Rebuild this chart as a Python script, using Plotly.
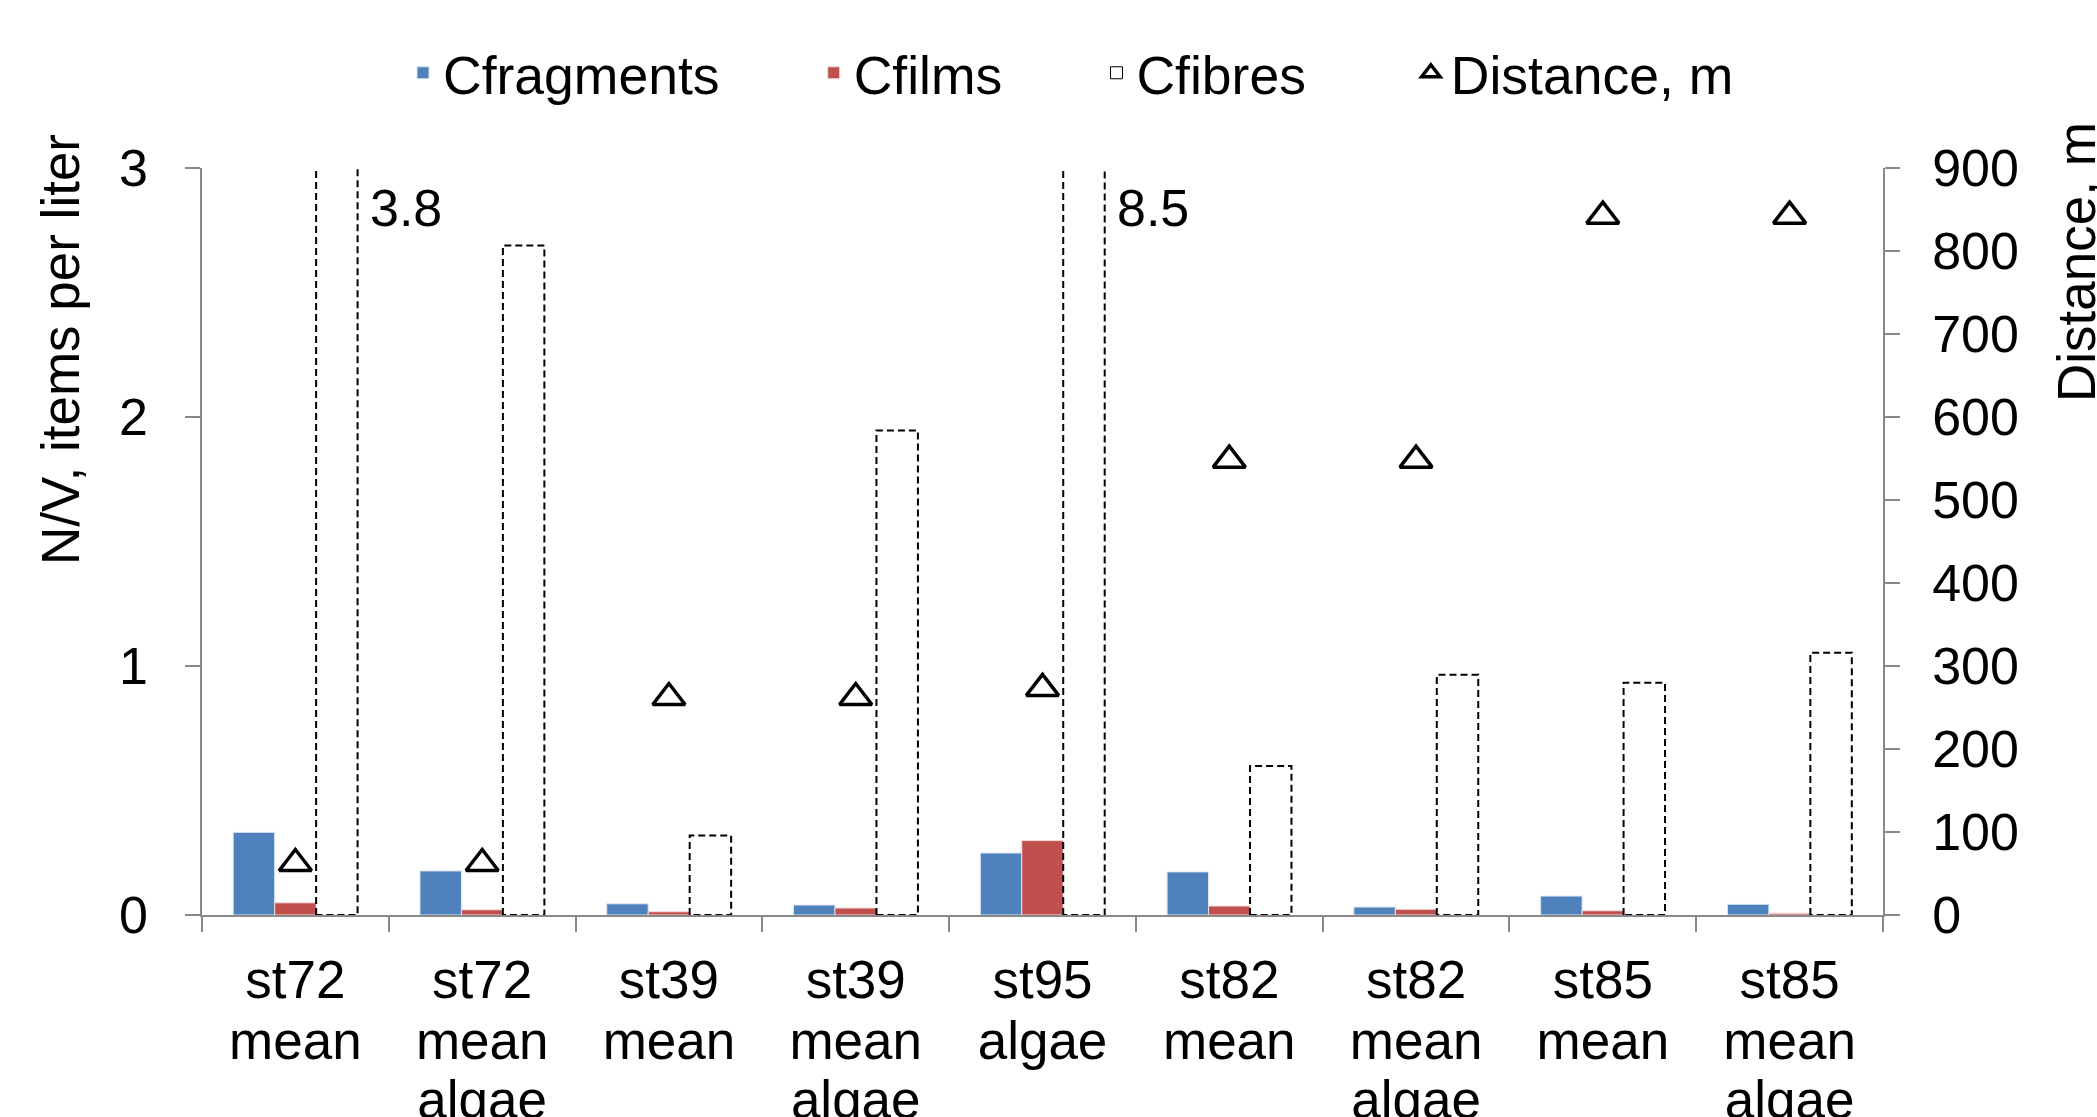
import plotly.graph_objects as go

# ---------------- data ----------------
categories = ["st72<br>mean", "st72<br>mean<br>algae", "st39<br>mean", "st39<br>mean<br>algae",
              "st95<br>algae", "st82<br>mean", "st82<br>mean<br>algae", "st85<br>mean",
              "st85<br>mean<br>algae"]
c_fragments = [0.332, 0.177, 0.045, 0.040, 0.249, 0.173, 0.032, 0.076, 0.043]
c_films = [0.049, 0.021, 0.013, 0.028, 0.299, 0.036, 0.023, 0.017, 0.007]
c_fibres = [3.8, 2.689, 0.319, 1.946, 8.5, 0.598, 0.965, 0.933, 1.053]
distance_m = [62, 62, 262, 262, 273, 548, 548, 842, 842]

y_max = 3
y2_max = 900

# ---------------- style ----------------
FONT = "Liberation Sans, Arial, sans-serif"
FS = 52
FS_LEG = 53.5
FS_CAT = 53
BLUE = "#4F81BD"
RED = "#C0504D"
AXIS = "#898989"
BAR_W = 0.222
OFF_FRAG, OFF_FILM, OFF_FIB = -0.333, -0.111, 0.111
NB = "\u00a0"

xs = list(range(len(categories)))
n_lines = max(len(c.split("<br>")) for c in categories)
cat_lines = [[(c.split("<br>") + [""] * n_lines)[k] for c in categories] for k in range(n_lines)]

fig = go.Figure()

fig.add_trace(go.Bar(x=xs, y=c_fragments, name="Cfragments" + NB * 6, width=BAR_W, offset=OFF_FRAG,
                     marker=dict(color=BLUE, line=dict(color="#DCE6F2", width=1))))
fig.add_trace(go.Bar(x=xs, y=c_films, name="Cfilms" + NB * 6, width=BAR_W, offset=OFF_FILM,
                     marker=dict(color=RED, line=dict(color="#F2DCDB", width=1))))
# fibres: white bar (no outline) + dashed outline drawn on the data axes
fig.add_trace(go.Bar(x=xs, y=c_fibres, name="Cfibres", width=BAR_W, offset=OFF_FIB,
                     marker=dict(color="white", line=dict(width=0)), showlegend=False))
ox, oy = [], []
for i, v in zip(xs, c_fibres):
    x0, x1 = i + OFF_FIB, i + OFF_FIB + BAR_W
    ox += [x0, x0, x1, x1, x0, None]
    oy += [0, v, v, 0, 0, None]
fig.add_trace(go.Scatter(x=ox, y=oy, mode="lines", showlegend=False, hoverinfo="skip",
                         line=dict(color="black", width=2, dash="7px,4px")))
# legend entry for fibres
fig.add_trace(go.Bar(x=[None], y=[None], name="Cfibres" + NB * 6 + "\u2009",
                     marker=dict(color="white", line=dict(color="black", width=1))))

fig.add_trace(go.Scatter(x=xs, y=distance_m, name="Distance, m", yaxis="y2", mode="markers",
                         marker=dict(symbol="triangle-up-open", size=28, color="black",
                                     line=dict(color="black", width=3.5))))

# empty traces so that the extra label rows (x2, x3) have a subplot
for k in range(1, n_lines):
    fig.add_trace(go.Scatter(x=[None], y=[None], xaxis=f"x{k + 1}", showlegend=False,
                             hoverinfo="skip"))

# labels for clipped fibre bars
annotations = []
for i, v in zip(xs, c_fibres):
    if v > y_max:
        annotations.append(dict(x=i + 0.39, y=2.838, xref="x", yref="y", text=f"{v:.1f}",
                                showarrow=False, xanchor="left", yanchor="middle",
                                font=dict(family=FONT, size=FS, color="black")))

W, H = 2097, 1117
L, R, T, B = 202, 214, 168, 202
pw, ph = W - L - R, H - T - B


def px_to_paper(px, py):
    return (px - L) / pw, (H - B - py) / ph


lx, ly = px_to_paper(60, 350)
annotations.append(dict(x=lx, y=ly, xref="paper", yref="paper", text="N/V, items per liter",
                        textangle=-90, showarrow=False, xanchor="center", yanchor="middle",
                        font=dict(family=FONT, size=FS_CAT, color="black")))
rx, ry = px_to_paper(2076, 262)
annotations.append(dict(x=rx, y=ry, xref="paper", yref="paper", text="Distance, m",
                        textangle=-90, showarrow=False, xanchor="center", yanchor="middle",
                        font=dict(family=FONT, size=FS_CAT, color="black")))

legx, legy = px_to_paper(403, 73)

xrange_ = [-0.5, len(categories) - 0.5]
layout_axes = {}
line_standoffs = [3, 64, 123]
for k in range(n_lines):
    ax = dict(range=xrange_, tickmode="array", tickvals=xs, ticktext=cat_lines[k],
              ticks="outside", ticklen=15, tickcolor="rgba(0,0,0,0)", showgrid=False,
              zeroline=False, ticklabelstandoff=line_standoffs[k],
              tickfont=dict(family=FONT, size=FS_CAT, color="black"))
    if k == 0:
        ax.update(showline=True, linecolor=AXIS, linewidth=1.5,
                  minor=dict(tick0=-0.5, dtick=1, ticks="outside", ticklen=15, tickcolor=AXIS,
                             tickwidth=1.5, showgrid=False))
        layout_axes["xaxis"] = ax
    else:
        ax.update(showline=False, overlaying="x", anchor="y", side="bottom")
        layout_axes[f"xaxis{k + 1}"] = ax

fig.update_layout(
    width=W, height=H,
    margin=dict(l=L, r=R, t=T, b=B, autoexpand=False),
    paper_bgcolor="white", plot_bgcolor="white",
    font=dict(family=FONT, size=FS, color="black"),
    barmode="overlay",
    showlegend=True,
    legend=dict(orientation="h", x=legx, y=legy, xanchor="left", yanchor="middle",
                font=dict(family=FONT, size=FS_LEG, color="black"), bgcolor="rgba(0,0,0,0)",
                traceorder="normal"),
    yaxis=dict(range=[0, y_max], dtick=1, ticks="outside", ticklen=15, tickcolor=AXIS,
               tickwidth=1.5, showline=True, linecolor=AXIS, linewidth=1.5, showgrid=False,
               zeroline=False, ticklabelstandoff=27,
               tickfont=dict(family=FONT, size=FS, color="black")),
    yaxis2=dict(range=[0, y2_max], dtick=100, overlaying="y", side="right", ticks="outside",
                ticklen=15, tickcolor=AXIS, tickwidth=1.5, showline=True, linecolor=AXIS,
                linewidth=1.5, showgrid=False, zeroline=False, ticklabelstandoff=22,
                tickfont=dict(family=FONT, size=FS, color="black")),
    annotations=annotations,
    **layout_axes,
)

fig.write_html("out.html", config={"displayModeBar": False},
               post_script="document.body.style.margin='0';document.body.style.overflow='hidden';")
